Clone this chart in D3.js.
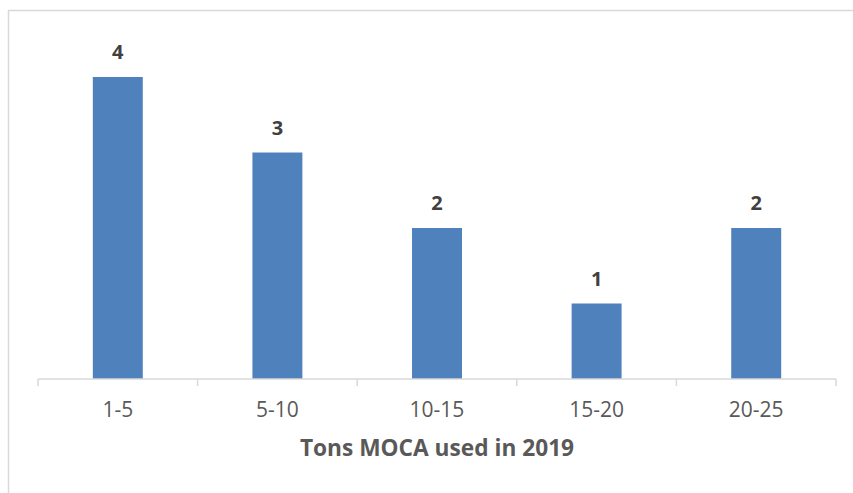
<!DOCTYPE html>
<html>
<head>
<meta charset="utf-8">
<script src="https://cdn.jsdelivr.net/npm/d3@7"></script>
<style>
  html, body { margin: 0; padding: 0; background: #fff; }
  svg { display: block; }
</style>
</head>
<body>
<svg id="chart" width="853" height="493"></svg>
<script>
// Number of sites by tonnage band
const categories = ["1-5", "5-10", "10-15", "15-20", "20-25"];
const counts = [4, 3, 2, 1, 2];
const axisTitle = "Tons MOCA used in 2019";

const svg = d3.select("#chart");
const font = "'Open Sans', 'Segoe UI', sans-serif";

// Chart frame
svg.append("rect")
  .attr("x", 8.5).attr("y", 10.5)
  .attr("width", 860).attr("height", 500)
  .attr("fill", "#fff")
  .attr("stroke", "#d9d9d9")
  .attr("stroke-width", 1.5);

const x = d3.scaleBand()
  .domain(categories)
  .range([38, 836])
  .paddingInner(0.687)
  .paddingOuter(0.3435);

const y = d3.scaleLinear()
  .domain([0, 4])
  .range([379, 77]);

// Bars
svg.append("g")
  .selectAll("rect")
  .data(categories)
  .join("rect")
  .attr("x", d => x(d))
  .attr("y", (d, i) => y(counts[i]))
  .attr("width", x.bandwidth())
  .attr("height", (d, i) => y(0) - y(counts[i]))
  .attr("fill", "#4f81bd");

// Category axis with ticks at band boundaries
const axisG = svg.append("g").attr("transform", `translate(0,${y(0)})`);
axisG.append("line")
  .attr("x1", 38).attr("x2", 836)
  .attr("y1", 0).attr("y2", 0)
  .attr("stroke", "#d9d9d9").attr("stroke-width", 1.5);
const step = x.step();
const bounds = d3.range(categories.length + 1).map(i => 38 + i * step);
axisG.selectAll("line.tick")
  .data(bounds)
  .join("line")
  .attr("class", "tick")
  .attr("x1", d => d).attr("x2", d => d)
  .attr("y1", 0).attr("y2", 7)
  .attr("stroke", "#d9d9d9").attr("stroke-width", 1.5);

axisG.selectAll("text")
  .data(categories)
  .join("text")
  .attr("x", d => x(d) + x.bandwidth() / 2)
  .attr("y", 38)
  .attr("text-anchor", "middle")
  .attr("font-family", font)
  .attr("font-size", 21)
  .attr("fill", "#595959")
  .text(d => d);

// Value labels
svg.append("g")
  .selectAll("text")
  .data(categories)
  .join("text")
  .attr("x", d => x(d) + x.bandwidth() / 2)
  .attr("y", (d, i) => y(counts[i]) - 18)
  .attr("text-anchor", "middle")
  .attr("font-family", font)
  .attr("font-size", 20)
  .attr("font-weight", "bold")
  .attr("fill", "#404040")
  .text((d, i) => counts[i]);

// Axis title
svg.append("text")
  .attr("x", 437)
  .attr("y", 456)
  .attr("text-anchor", "middle")
  .attr("font-family", font)
  .attr("font-size", 22.7)
  .attr("font-weight", "bold")
  .attr("fill", "#595959")
  .text(axisTitle);
</script>
</body>
</html>
